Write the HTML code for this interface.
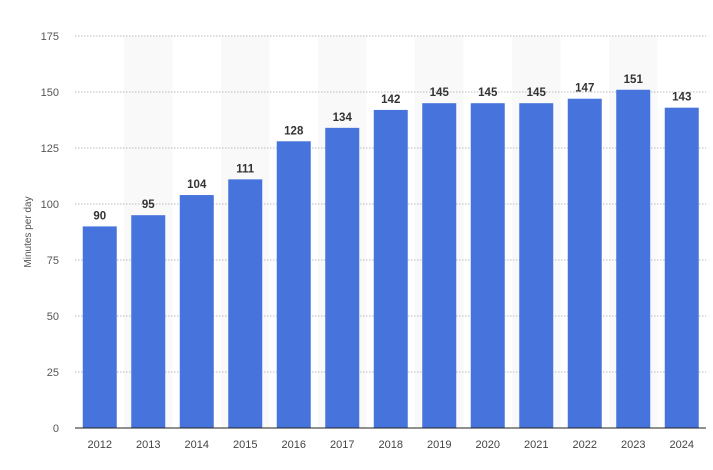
<!DOCTYPE html>
<html><head><meta charset="utf-8"><style>
body{margin:0;background:#fff;font-family:"Liberation Sans",sans-serif}
</style></head><body>
<svg id="chart" width="713" height="465" xmlns="http://www.w3.org/2000/svg">
<text transform="translate(31,232) rotate(-90)" text-anchor="middle" font-size="10" fill="#555">Minutes per day</text>
<g id="bands"></g><g id="grid"></g><g id="bars"></g><g id="labels"></g>
<line x1="75" x2="706" y1="428" y2="428" stroke="#222" stroke-width="1"/>
</svg>
<script>
const categories=["2012","2013","2014","2015","2016","2017","2018","2019","2020","2021","2022","2023","2024"];
const values=[90,95,104,111,128,134,142,145,145,145,147,151,143];
const yTicks=[0,25,50,75,100,125,150,175];
const NS="http://www.w3.org/2000/svg";
const left=75.5,step=48.5,bw=34,y0=428,yMax=175,yTop=36;
const y=v=>y0-(v/yMax)*(y0-yTop);
const x=i=>left+i*step+step/2;
function mk(tag,attrs,parent,text){const e=document.createElementNS(NS,tag);for(const k in attrs)e.setAttribute(k,attrs[k]);if(text!==undefined)e.textContent=text;document.getElementById(parent).appendChild(e);return e;}
categories.forEach((c,i)=>{
 if(i%2===1){const b=mk("rect",{x:left+i*step,y:yTop,width:step,height:y0-yTop,fill:"#f9f9f9"},"bands");
 
 }
});
yTicks.forEach(t=>{
 if(t>0){const g=mk("line",{x1:75,x2:706,y1:y(t),y2:y(t),stroke:"#bbb","stroke-dasharray":"1.5,1.5"},"grid");
 
 }
 const l=mk("text",{x:59,y:y(t)+4,"text-anchor":"end","font-size":"11",fill:"#555"},"grid",String(t));
 
 
});
categories.forEach((c,i)=>{
 const r=mk("rect",{x:x(i)-bw/2,y:y(values[i]),width:bw,height:y0-y(values[i]),fill:"#4774dc"},"bars");
 
 
 const v=mk("text",{x:x(i),y:y(values[i])-7,"text-anchor":"middle","font-size":"11.5","font-weight":"bold",fill:"#333"},"labels",String(values[i]));
 
 
 const t=mk("text",{x:x(i),y:448,"text-anchor":"middle","font-size":"11",fill:"#444"},"labels",c);
 
 
});
</script>
</body></html>
